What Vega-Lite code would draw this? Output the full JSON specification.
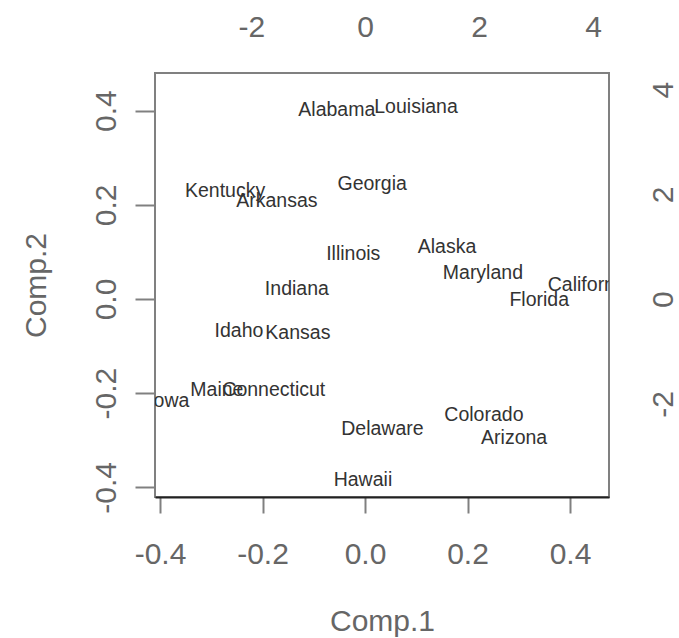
{
  "$schema": "https://vega.github.io/schema/vega-lite/v6.json",
  "autosize": {"type": "none"},
  "padding": {"left": 155, "top": 73, "right": 70, "bottom": 141},
  "width": 454,
  "height": 424,
  "config": {
    "font": "Liberation Sans",
    "view": {"stroke": "#808080", "strokeWidth": 2},
    "axis": {"grid": false, "domain": false, "labelColor": "#666", "titleColor": "#666", "tickColor": "#808080", "tickWidth": 2, "labelFontSize": 30, "titleFontSize": 30, "titleFontWeight": "normal", "labelFlush": false, "labelOverlap": false, "labelBaseline": "alphabetic", "titleBaseline": "alphabetic"}
  },
  "data": {"values": [
    {"state": "Alabama", "c1": -0.055, "c2": 0.401},
    {"state": "Louisiana", "c1": 0.0995, "c2": 0.408},
    {"state": "Kentucky", "c1": -0.273, "c2": 0.229},
    {"state": "Arkansas", "c1": -0.172, "c2": 0.208},
    {"state": "Georgia", "c1": 0.014, "c2": 0.244},
    {"state": "Illinois", "c1": -0.023, "c2": 0.096},
    {"state": "Alaska", "c1": 0.16, "c2": 0.11},
    {"state": "Maryland", "c1": 0.23, "c2": 0.055},
    {"state": "California", "c1": 0.437, "c2": 0.03},
    {"state": "Florida", "c1": 0.34, "c2": -0.002},
    {"state": "Indiana", "c1": -0.133, "c2": 0.021},
    {"state": "Idaho", "c1": -0.246, "c2": -0.068},
    {"state": "Kansas", "c1": -0.131, "c2": -0.072},
    {"state": "Maine", "c1": -0.289, "c2": -0.193},
    {"state": "Connecticut", "c1": -0.178, "c2": -0.193},
    {"state": "Iowa", "c1": -0.383, "c2": -0.217},
    {"state": "Colorado", "c1": 0.232, "c2": -0.246},
    {"state": "Delaware", "c1": 0.034, "c2": -0.276},
    {"state": "Arizona", "c1": 0.291, "c2": -0.295},
    {"state": "Hawaii", "c1": -0.004, "c2": -0.384}
  ]},
  "layer": [
    {
      "mark": {"type": "text", "clip": true, "fontSize": 19.5, "color": "#333"},
      "encoding": {
        "x": {"field": "c1", "type": "quantitative", "scale": {"domain": [-0.4098, 0.4761], "nice": false, "zero": false},
          "axis": {"orient": "bottom", "values": [-0.4, -0.2, 0, 0.2, 0.4], "labelExpr": "replace(format(datum.value, '.1f'), '−', '-')", "domain": true, "domainColor": "#222", "domainWidth": 2, "tickSize": 16, "labelPadding": 50, "title": "Comp.1", "titleY": 133}},
        "y": {"field": "c2", "type": "quantitative", "scale": {"domain": [-0.4204, 0.4798], "nice": false, "zero": false},
          "axis": {"orient": "left", "values": [-0.4, -0.2, 0, 0.2, 0.4], "labelExpr": "replace(format(datum.value, '.1f'), '−', '-')", "tickSize": 20, "labelAngle": -90, "labelAlign": "center", "labelPadding": 20, "title": "Comp.2", "titleX": -110}},
        "text": {"field": "state"}
      }
    },
    {
      "mark": {"type": "point", "opacity": 0},
      "encoding": {
        "x": {"field": "c1", "type": "quantitative", "scale": {"domain": [-3.69, 4.28], "nice": false, "zero": false},
          "axis": {"orient": "top", "values": [-2, 0, 2, 4], "labelExpr": "replace(format(datum.value, 'd'), '−', '-')", "ticks": false, "tickSize": 0, "labelPadding": 37, "title": null}},
        "y": {"field": "c2", "type": "quantitative", "scale": {"domain": [-3.78, 4.32], "nice": false, "zero": false},
          "axis": {"orient": "right", "values": [-2, 0, 2, 4], "labelExpr": "replace(format(datum.value, 'd'), '−', '-')", "ticks": false, "tickSize": 0, "labelAngle": -90, "labelAlign": "center", "labelPadding": 63, "title": null}}
      }
    }
  ],
  "resolve": {"scale": {"x": "independent", "y": "independent"}, "axis": {"x": "independent", "y": "independent"}}
}
